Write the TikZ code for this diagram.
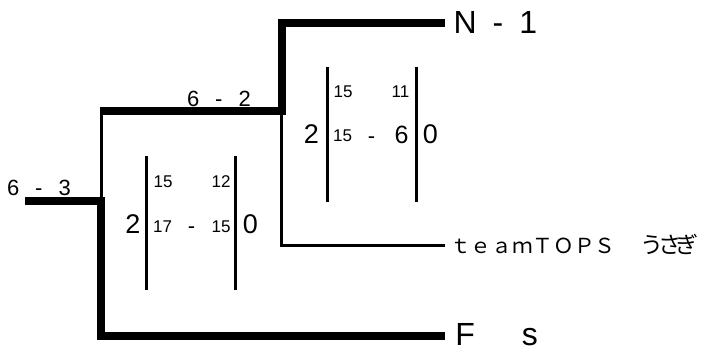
\documentclass[tikz,border=0pt]{standalone}
\usepackage{fontspec}
\setmainfont{Liberation Sans}
\newfontfamily\cjk{Noto Sans CJK JP}
\begin{document}
\begin{tikzpicture}[x=1pt,y=-1pt,
  win/.style={line width=8pt, line join=miter, line cap=butt},
  lose/.style={line width=3pt, line join=miter, line cap=butt},
  bar/.style={line width=3pt, line cap=butt},
  txt/.style={inner sep=0pt, outer sep=0pt},
  team/.style={txt, anchor=base west, text depth=0pt, font=\fontsize{32}{32}\selectfont},
  bignum/.style={txt, anchor=base, font=\fontsize{27}{27}\selectfont},
  smallnum/.style={txt, anchor=base, font=\fontsize{17}{17}\selectfont},
  midnum/.style={txt, anchor=base, font=\fontsize{22}{22}\selectfont}]
\useasboundingbox (0,0) rectangle (703,351);

% bracket points
\coordinate (r0) at (25,201);
\coordinate (j1) at (101,201);
\coordinate (s1) at (101,111);
\coordinate (b1) at (101,335.5);
\coordinate (s2) at (281.5,111);
\coordinate (t2) at (281.5,23);
\coordinate (u2) at (281.5,245);

% team names
\node[team] (N1) at (453.5,33) {N\hspace{16pt}-\hspace{16pt}1};
\node[txt, anchor=base west, font=\cjk\fontsize{20.7}{20.7}\selectfont] (TT) at (450,253)
  {ｔｅａｍＴＯＰＳ\hspace{25pt}\fontsize{23}{23}\selectfont う\hspace{-5.5pt}さ\hspace{-5.5pt}ぎ};
\node[team] (FS) at (455.4,345) {F\hspace{47pt}s};

% match scores on lines
\node[txt, anchor=base west, font=\fontsize{22}{22}\selectfont] (m1) at (7,195) {6\hspace{16pt}-\hspace{16pt}3};
\node[txt, anchor=base west, font=\fontsize{22}{22}\selectfont] (m2) at (187,106) {6\hspace{16pt}-\hspace{16pt}2};

% connectors
\draw[lose] (s1) -- (j1);
\draw[lose] (s2) -- (u2) -- (u2 -| TT.west) [shorten >=5pt];
\draw[win] ([xshift=-1.5pt]s1) -- (s2) -- (t2) -- (t2 -| N1.west) [shorten >=8.5pt];
\draw[win] (r0) -- (j1) -- (b1) -- (b1 -| FS.west) [shorten >=10.4pt];

% score box 1
\draw[bar] (146.5,156) -- (146.5,290);
\draw[bar] (235.5,156) -- (235.5,290);
\node[bignum] (a2) at (133,233) {2};
\node[smallnum] (a15u) at (163,187) {15};
\node[smallnum] (a12) at (221,187) {12};
\node[smallnum] (a17) at (162.5,232) {17};
\node[midnum] (adash) at (191.5,233) {-};
\node[smallnum] (a15l) at (221,232) {15};
\node[bignum] (a0) at (250.5,233) {0};

% score box 2
\draw[bar] (327.5,67) -- (327.5,202);
\draw[bar] (416,67) -- (416,202);
\node[bignum] (b2) at (311.5,143) {2};
\node[smallnum] (b15u) at (343,97.5) {15};
\node[smallnum] (b11) at (400.5,97.5) {11};
\node[smallnum] (b15l) at (342.5,141) {15};
\node[midnum] (bdash) at (371.5,143) {-};
\node[txt, anchor=base, font=\fontsize{25}{25}\selectfont] (b6) at (401.5,143) {6};
\node[bignum] (b0) at (430.5,143) {0};
\end{tikzpicture}
\end{document}
